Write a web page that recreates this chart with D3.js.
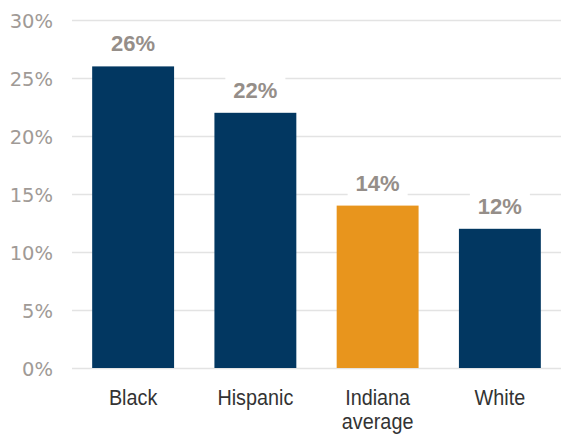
<!DOCTYPE html>
<html>
<head>
<meta charset="utf-8">
<script src="https://cdn.jsdelivr.net/npm/d3@7"></script>
<style>
  body { margin: 0; background: #fff; }
  svg { display: block; }
</style>
</head>
<body>
<script>
// DATA
const categories = ["Black", "Hispanic", "Indiana average", "White"]
const values = [26, 22, 14, 12]
const highlight = ["Indiana average"]
const yTicks = [0, 5, 10, 15, 20, 25, 30]

const svgwidth = 561
const svgheight = 434
const margin = {top: 20, right: 0, bottom: 66, left: 72}
const graphwidth = svgwidth - margin.left - margin.right
const graphheight = svgheight - margin.top - margin.bottom

const svg = d3.select("body").append("svg")
  .attr("width", svgwidth)
  .attr("height", svgheight)

const graph = svg.append("g")
  .attr("transform", `translate(${margin.left}, ${margin.top})`)

const X = d3.scaleBand()
  .domain(categories)
  .range([0, graphwidth])
  .paddingInner(0.33)
  .paddingOuter(0.165)

const Y = d3.scaleLinear()
  .domain([0, 30])
  .range([graphheight, 0])

// gridlines + y labels
const yaxis = graph.append("g")
  .call(d3.axisLeft(Y).tickValues(yTicks).tickFormat(d => d + "%").tickSize(-graphwidth).tickPadding(19))
yaxis.select(".domain").remove()
yaxis.selectAll("line").attr("stroke", "#e3e3e3").attr("stroke-width", 1.5)
yaxis.selectAll("text")
  .attr("fill", "#a09a96")
  .attr("dy", "0.36em")
  .style("font-family", "'DejaVu Sans', sans-serif")
  .style("font-size", "19.5px")

// bars
graph.selectAll(".bar").data(categories)
  .enter().append("rect").classed("bar", true)
  .attr("x", d => X(d))
  .attr("width", X.bandwidth())
  .attr("y", (d, i) => Y(values[i]))
  .attr("height", (d, i) => graphheight - Y(values[i]))
  .attr("fill", d => highlight.includes(d) ? "#e8951d" : "#023761")

// value labels with white box
const lab = graph.selectAll(".val").data(categories)
  .enter().append("g").classed("val", true)
  .attr("transform", (d, i) => `translate(${X(d) + X.bandwidth() / 2}, ${Y(values[i]) - 15})`)
lab.append("rect")
  .attr("x", -30).attr("y", -21).attr("width", 60).attr("height", 29)
  .attr("fill", "#fff")
lab.append("text")
  .attr("text-anchor", "middle")
  .attr("fill", "#958e89")
  .style("font-family", "'Liberation Sans', sans-serif")
  .style("font-weight", "bold")
  .style("font-size", "22px")
  .text((d, i) => values[i] + "%")

// x labels (squeezed a bit to look condensed)
const xl = graph.selectAll(".xlab").data(categories)
  .enter().append("text").classed("xlab", true)
  .attr("transform", d => `translate(${X(d) + X.bandwidth() / 2}, ${graphheight + 37}) scale(0.88, 1)`)
  .attr("text-anchor", "middle")
  .attr("fill", "#333")
  .style("font-family", "'Liberation Sans', sans-serif")
  .style("font-size", "22.5px")
xl.each(function(d) {
  const words = d.split(" ")
  const t = d3.select(this)
  words.forEach((w, i) => {
    t.append("tspan").attr("x", 0).attr("dy", i ? 24 : 0).text(w)
  })
})
</script>
</body>
</html>
